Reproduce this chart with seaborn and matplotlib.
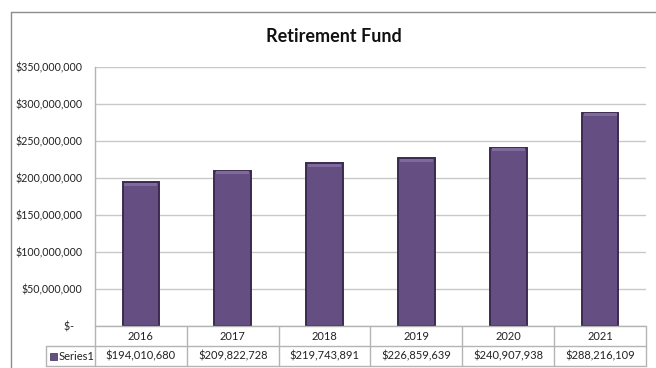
import matplotlib
matplotlib.use("Agg")
import matplotlib.pyplot as plt
from matplotlib.patches import Rectangle
from matplotlib.lines import Line2D
import seaborn as sns
import pandas as pd

years = ["2016", "2017", "2018", "2019", "2020", "2021"]
fund_values = [194010680, 209822728, 219743891, 226859639, 240907938, 288216109]
series_name = "Series1"
chart_title = "Retirement Fund"

BAR_COLOR = "#654f82"
EDGE_COLOR = "#3a2b50"
GRID_COLOR = "#c8c8c8"
LINE_COLOR = "#b4b4b4"
TEXT_COLOR = "#222222"

sns.set_theme(style="white")
plt.rcParams["font.family"] = ["Lato", "DejaVu Sans"]

df = pd.DataFrame({"year": years, "value": fund_values})

fig = plt.figure(figsize=(6.56, 3.68), dpi=100)
W, H = 656, 368
ax = fig.add_axes([95 / W, 1 - 326 / H, (646 - 95) / W, (326 - 67) / H])

sns.barplot(data=df, x="year", y="value", color=BAR_COLOR, width=0.4,
            edgecolor=EDGE_COLOR, linewidth=1.4, saturation=1, ax=ax, zorder=3)

ax.set_ylim(0, 350_000_000)
ticks = list(range(0, 350_000_001, 50_000_000))
ax.set_yticks(ticks)
ax.set_yticklabels(["$-   " if t == 0 else f"${t:,.0f}" for t in ticks],
                   fontsize=7.7, color=TEXT_COLOR)
ax.tick_params(axis="y", length=0, pad=9)
ax.set_xticks([])
ax.set_xlabel("")
ax.set_ylabel("")
ax.yaxis.grid(True, color=GRID_COLOR, linewidth=1)
ax.set_axisbelow(True)
for side in ["top", "right", "bottom"]:
    ax.spines[side].set_visible(False)
ax.spines["left"].set_color(LINE_COLOR)
ax.spines["left"].set_linewidth(1)
ax.set_xlim(-0.5, len(years) - 0.5)

# lighter bevel strip along the top of each bar
for i, v in enumerate(fund_values):
    ax.bar(i, 4_000_000, bottom=v - 5_000_000, width=0.36, color="#7e6a9c",
           linewidth=0, zorder=4)

# data table beneath the plot
tx = fig.transFigure
x0, x1 = 95 / W, 646 / W
col_w = (x1 - x0) / len(years)
y_top, y_mid, y_bot = 1 - 326 / H, 1 - 346 / H, 1 - 366 / H
leg_x = 46 / W

def hline(xa, xb, y):
    fig.add_artist(Line2D([xa, xb], [y, y], transform=tx, color=LINE_COLOR, lw=1))

def vline(x, ya, yb):
    fig.add_artist(Line2D([x, x], [ya, yb], transform=tx, color=LINE_COLOR, lw=1))

hline(x0, x1, y_top)
hline(leg_x, x1, y_mid)
hline(leg_x, x1, y_bot)
vline(leg_x, y_mid, y_bot)
for k in range(len(years) + 1):
    vline(x0 + k * col_w, y_top, y_bot)

for k, (yr, val) in enumerate(zip(years, fund_values)):
    cx = x0 + (k + 0.5) * col_w
    fig.text(cx, (y_top + y_mid) / 2, yr, ha="center", va="center",
             fontsize=8, color=TEXT_COLOR)
    fig.text(cx, (y_mid + y_bot) / 2, f"${val:,.0f}", ha="center", va="center",
             fontsize=8, color=TEXT_COLOR)

fig.add_artist(Rectangle((50 / W, (y_mid + y_bot) / 2 - 3.5 / H), 7 / W, 7 / H,
                         transform=tx, facecolor=BAR_COLOR, edgecolor=EDGE_COLOR, lw=0.5))
fig.text(59 / W, (y_mid + y_bot) / 2, series_name, ha="left", va="center",
         fontsize=8, color=TEXT_COLOR)

# chart title
fig.text(334 / W, 1 - 37 / H, chart_title, ha="center", va="center",
         fontsize=13, fontweight="bold", color="#111111")

# outer chart frame
fig.add_artist(Line2D([11 / W, 1.0], [1 - 12 / H, 1 - 12 / H], transform=tx,
                      color="#8c8c8c", lw=1))
fig.add_artist(Line2D([11 / W, 11 / W], [1 - 12 / H, 0], transform=tx,
                      color="#8c8c8c", lw=1))

fig.savefig("out.png", dpi=100)
